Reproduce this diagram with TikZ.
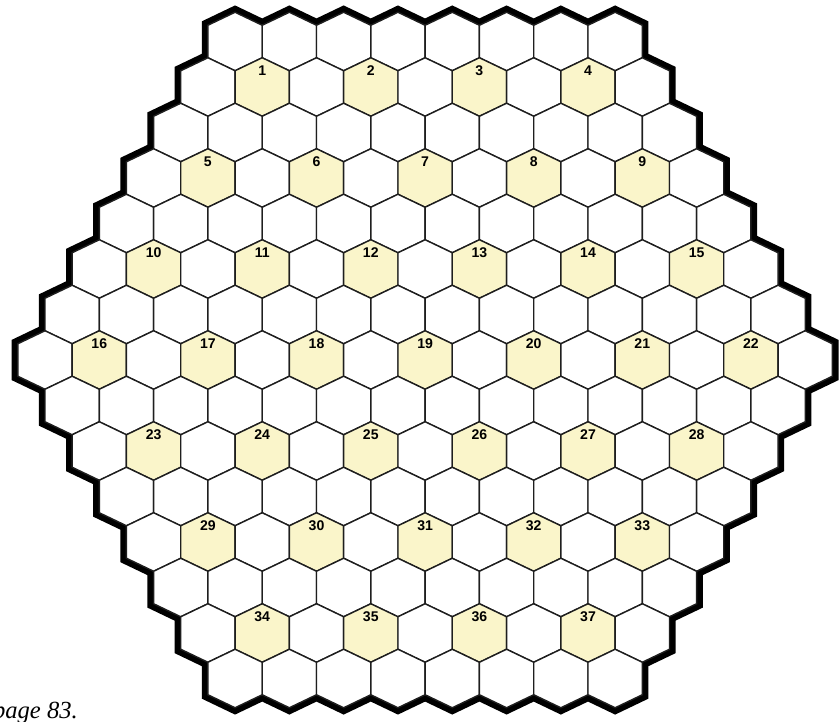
\documentclass[tikz,border=0pt]{standalone}
\usepackage{fontspec}
\setmainfont{Liberation Serif}
\setsansfont{Liberation Sans}
\definecolor{cellshade}{RGB}{250,245,202}
\definecolor{gridline}{RGB}{30,30,30}
\newcounter{cellno}

\begin{document}
\begin{tikzpicture}[
   x=0.03cm, y=-0.03cm,
   cell/.style={draw=gridline, line width=1.2pt, fill=white},
   marked/.style={cell, fill=cellshade},
   rim/.style={draw=black, line width=10.5pt, line join=miter},
   num/.style={font=\sffamily\bfseries\fontsize{12}{14}\selectfont, inner sep=0pt},
   caption/.style={font=\rmfamily\itshape\fontsize{21}{24}\selectfont, inner sep=0pt}
]
\useasboundingbox (0,0) rectangle (840,721);
\def\ha{27.15} \def\tip{13} \def\side{32.5}
% Outer rim (inner half is covered by the cells)
\draw[rim] (207.9,25.25)
  \foreach \k in {1,...,8}{ -- ++(\ha,-\tip) -- ++(\ha,\tip) }
  \foreach \k in {1,...,7}{ -- ++(0,\side) -- ++(\ha,\tip) }
  -- ++(0,\side)
  \foreach \k in {1,...,7}{ -- ++(-\ha,\tip) -- ++(0,\side) }
  \foreach \k in {1,...,8}{ -- ++(-\ha,\tip) -- ++(-\ha,-\tip) }
  -- ++(0,-\side)
  \foreach \k in {1,...,7}{ -- ++(-\ha,-\tip) -- ++(0,-\side) }
  \foreach \k in {1,...,6}{ -- ++(\ha,-\tip) -- ++(0,-\side) }
  -- ++(\ha,-\tip) -- cycle;
% Cells, row by row
\foreach \r in {0,...,14}{
  \pgfmathtruncatemacro\n{15-abs(\r-7)}
  \foreach \i in {1,...,\n}{
    \pgfmathsetmacro\cx{425.1+(\i-1-(\n-1)/2)*54.3}
    \pgfmathsetmacro\cy{360+(\r-7)*45.5}
    \pgfmathtruncatemacro\mk{(mod(\r,2)==1)*(mod(\i,2)==0)}
    \ifnum\mk=1 \def\sty{marked}\else\def\sty{cell}\fi
    \path[\sty] (\cx,\cy-29.25) -- ++(\ha,\tip) -- ++(0,\side)
      -- ++(-\ha,\tip) -- ++(-\ha,-\tip) -- ++(0,-\side) -- cycle;
    \ifnum\mk=1
      \stepcounter{cellno}
      \node[num] (n\thecellno) at (\cx,\cy-16.5) {\thecellno};
    \fi
  }
}
% Caption, cut at the left edge
\node[caption, anchor=base east] (pg) at (78,718) {page 83.};
\end{tikzpicture}
\end{document}
